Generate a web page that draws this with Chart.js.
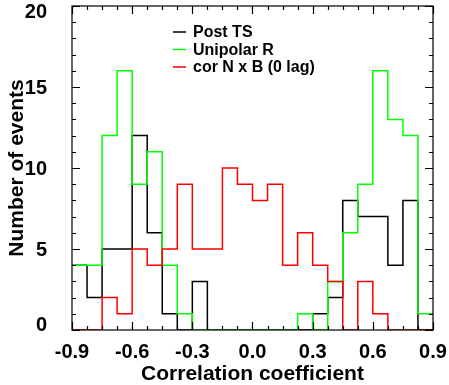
<!DOCTYPE html>
<html>
<head>
<meta charset="utf-8">
<script src="https://cdn.jsdelivr.net/npm/chart.js@4/dist/chart.umd.min.js"></script>
<style>
  html, body { margin: 0; padding: 0; background: #fff; }
  #wrap { width: 449px; height: 385px; }
</style>
</head>
<body>
<div id="wrap"><canvas id="hist"></canvas></div>
<script>
// histogram bins (left edges) and counts per bin
const binStarts = [-0.9, -0.825, -0.75, -0.675, -0.6, -0.525, -0.45, -0.375,
  -0.3, -0.225, -0.15, -0.075, 0, 0.075, 0.15, 0.225,
  0.3, 0.375, 0.45, 0.525, 0.6, 0.675, 0.75, 0.825];
const binEnd = 0.9;

const postTS    = [4, 2, 5, 5, 12, 6, 1, 0, 3, 0, 0, 0, 0, 0, 0, 0, 1, 2, 8, 7, 7, 4, 8, 0];
const unipolarR = [4, 4, 12, 16, 9, 11, 4, 1, 0, 0, 0, 0, 0, 0, 0, 1, 0, 3, 6, 9, 16, 13, 12, 1];
const corNxB    = [0, 0, 2, 1, 5, 4, 5, 9, 5, 5, 10, 9, 8, 9, 4, 6, 4, 3, 0, 3, 1, 0, 0, 0];

const seriesNames = ['Post TS', 'Unipolar R', 'cor N x B (0 lag)'];
const seriesColors = ['#000000', '#00ff00', '#ff0000'];

const xTickValues = [-0.9, -0.6, -0.3, 0, 0.3, 0.6, 0.9];
const yTickValues = [0, 5, 10, 15, 20];

const FONT = '"Liberation Sans", Arial, Helvetica, sans-serif';

function toSteps(counts) {
  const pts = counts.map((c, i) => ({ x: binStarts[i], y: c }));
  pts.push({ x: binEnd, y: counts[counts.length - 1] });
  return pts;
}

function stepSet(i, counts, order) {
  return {
    label: seriesNames[i],
    data: toSteps(counts),
    borderColor: seriesColors[i],
    borderWidth: 1.5,
    stepped: true,
    pointRadius: 0,
    fill: false,
    order: order
  };
}

// IDL-like box with inward ticks on all four sides, y labels, in-plot legend
const boxPlugin = {
  id: 'boxAxes',
  afterDraw(chart) {
    const { ctx, chartArea: a, scales } = chart;
    const x = scales.x, y = scales.y;
    ctx.save();
    ctx.strokeStyle = '#000';
    ctx.lineWidth = 1.2;
    ctx.strokeRect(a.left, a.top, a.right - a.left, a.bottom - a.top);

    ctx.beginPath();
    // y ticks: minor every 1, major every 5
    for (let v = 0; v <= 20; v++) {
      const py = Math.round(y.getPixelForValue(v)) + 0.5;
      const len = v % 5 === 0 ? 8 : 4;
      ctx.moveTo(a.left, py); ctx.lineTo(a.left + len, py);
      ctx.moveTo(a.right, py); ctx.lineTo(a.right - len, py);
    }
    // x ticks: minor every 0.075, major every 0.3
    for (let k = 0; k <= 24; k++) {
      const v = -0.9 + k * 0.075;
      const px = Math.round(x.getPixelForValue(v)) + 0.5;
      const len = k % 4 === 0 ? 8 : 4;
      ctx.moveTo(px, a.bottom); ctx.lineTo(px, a.bottom - len);
      ctx.moveTo(px, a.top); ctx.lineTo(px, a.top + len);
    }
    ctx.stroke();

    // y tick labels (end labels pushed inside the box like the original)
    ctx.fillStyle = '#000';
    ctx.font = 'bold 20px ' + FONT;
    ctx.textAlign = 'right';
    ctx.textBaseline = 'middle';
    const last = yTickValues.length - 1;
    yTickValues.forEach((v, i) => {
      const shift = i === 0 ? -5 : i === last ? 6.5 : 1;
      ctx.fillText(String(v), a.left - 25, y.getPixelForValue(v) + shift);
    });

    // legend
    ctx.font = 'bold 16px ' + FONT;
    ctx.textAlign = 'left';
    seriesNames.forEach((name, i) => {
      const ly = 32 + i * 17.5;
      ctx.strokeStyle = seriesColors[i];
      ctx.lineWidth = 1.5;
      ctx.beginPath();
      ctx.moveTo(173, ly); ctx.lineTo(186, ly);
      ctx.stroke();
      ctx.fillText(name, 193, ly + 1);
    });
    ctx.restore();
  }
};

new Chart(document.getElementById('hist'), {
  type: 'line',
  data: {
    datasets: [
      stepSet(0, postTS, 3),
      stepSet(1, unipolarR, 2),
      stepSet(2, corNxB, 1)
    ]
  },
  options: {
    responsive: true,
    maintainAspectRatio: false,
    animation: false,
    layout: { padding: { top: 6, right: 16, left: 0, bottom: 0 } },
    plugins: {
      legend: { display: false },
      tooltip: { enabled: false }
    },
    scales: {
      x: {
        type: 'linear',
        min: -0.9,
        max: 0.9,
        grid: { display: false, drawTicks: false },
        border: { display: false },
        afterBuildTicks: s => { s.ticks = xTickValues.map(v => ({ value: v })); },
        afterFit: s => { s.height = 55; s.paddingLeft = 0; s.paddingRight = 0; },
        ticks: {
          color: '#000',
          padding: 10,
          maxRotation: 0,
          font: { family: FONT, size: 20, weight: 'bold' },
          callback: v => Number(v).toFixed(1)
        },
        title: {
          display: true,
          text: 'Correlation coefficient',
          color: '#000',
          padding: { top: 0, bottom: 0 },
          font: { family: FONT, size: 21, weight: 'bold', lineHeight: 1.0 }
        }
      },
      y: {
        min: 0,
        max: 20,
        grid: { display: false, drawTicks: false },
        border: { display: false },
        afterBuildTicks: s => { s.ticks = yTickValues.map(v => ({ value: v })); },
        afterFit: s => { s.width = 72; s.paddingTop = 0; s.paddingBottom = 0; },
        ticks: { display: false },
        title: {
          display: true,
          text: 'Number of events',
          color: '#000',
          padding: { top: 7, bottom: 0 },
          font: { family: FONT, size: 21, weight: 'bold', lineHeight: 1.0 }
        }
      }
    }
  },
  plugins: [boxPlugin]
});
</script>
</body>
</html>
